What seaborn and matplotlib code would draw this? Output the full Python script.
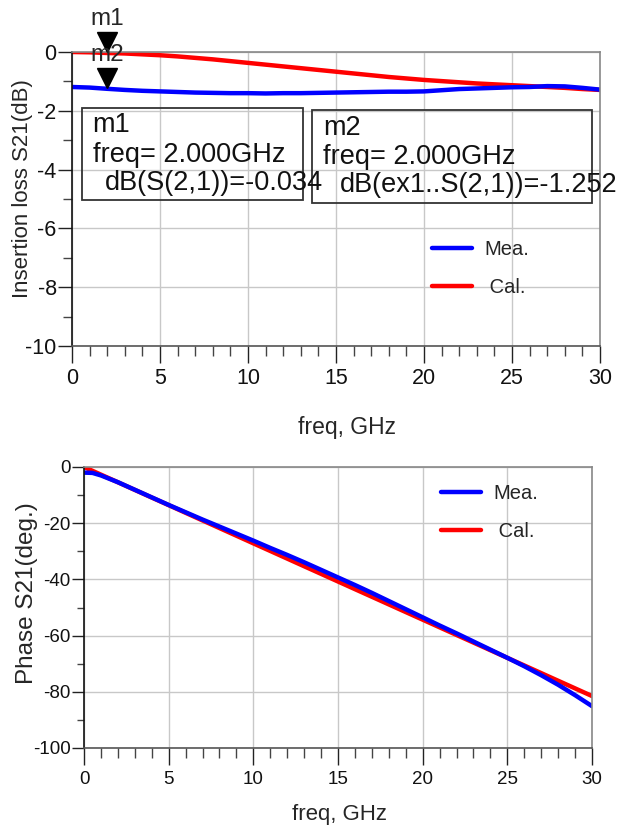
import numpy as np
import pandas as pd
import matplotlib.pyplot as plt
import seaborn as sns
from matplotlib.patches import Rectangle
from matplotlib.ticker import MultipleLocator
from matplotlib.transforms import offset_copy

# data (freq in GHz)
freq = list(range(31))
loss_cal = [0.0, -0.01, -0.034, -0.05, -0.08, -0.11, -0.15, -0.2, -0.25, -0.31,
            -0.37, -0.43, -0.49, -0.55, -0.61, -0.67, -0.73, -0.79, -0.85, -0.9,
            -0.95, -0.99, -1.03, -1.07, -1.1, -1.13, -1.16, -1.19, -1.22, -1.26, -1.29]
loss_mea = [-1.19, -1.21, -1.252, -1.29, -1.32, -1.34, -1.36, -1.38, -1.39, -1.4,
            -1.4, -1.41, -1.4, -1.4, -1.39, -1.38, -1.37, -1.36, -1.35, -1.35,
            -1.34, -1.3, -1.26, -1.24, -1.22, -1.2, -1.19, -1.16, -1.17, -1.22, -1.28]

phase_freq = [0, 0.5, 1, 2, 3, 4, 5, 6, 7, 8, 9, 10, 11, 12, 13, 14, 15, 16, 17,
              18, 19, 20, 21, 22, 23, 24, 25, 26, 27, 28, 29, 30]
phase_cal = [0.0, -1.36, -2.72, -5.43, -8.15, -10.87, -13.58, -16.3, -19.02, -21.73,
             -24.45, -27.17, -29.88, -32.6, -35.32, -38.03, -40.75, -43.47, -46.18,
             -48.9, -51.62, -54.33, -57.05, -59.77, -62.48, -65.2, -67.92, -70.63,
             -73.35, -76.07, -78.78, -81.5]
phase_mea = [-2.0, -2.1, -3.0, -5.4, -8.1, -10.8, -13.5, -16.1, -18.7, -21.2,
             -23.7, -26.2, -28.8, -31.3, -33.9, -36.6, -39.3, -42.0, -44.8,
             -47.7, -50.6, -53.5, -56.4, -59.2, -62.1, -65.0, -67.9, -70.9,
             -74.1, -77.5, -81.2, -85.1]

marker_freq = 2.0
m1_val = -0.034
m2_val = -1.252

sns.set_style("white")
plt.rcParams['font.family'] = ['Liberation Sans', 'DejaVu Sans']
plt.rcParams['axes.unicode_minus'] = False

W, H = 635, 834
fig = plt.figure(figsize=(W / 100, H / 100), dpi=100)


def px(x, y):
    return x / W, 1 - y / H


def style_axes(ax, ymaj, ymin, ylen, ylen_min, fs):
    ax.set_xlim(0, 30)
    ax.xaxis.set_major_locator(MultipleLocator(5))
    ax.xaxis.set_minor_locator(MultipleLocator(1))
    ax.yaxis.set_major_locator(MultipleLocator(ymaj))
    ax.yaxis.set_minor_locator(MultipleLocator(ymin))
    ax.grid(True, which='major', color='#c8c8c8', lw=1)
    ax.tick_params(axis='x', which='major', direction='out', length=12.2, width=1,
                   color='#222222', pad=4, labelsize=fs, labelcolor='#111111', bottom=True)
    ax.tick_params(axis='x', which='minor', direction='out', length=7, width=1,
                   color='#444444', bottom=True)
    ax.tick_params(axis='y', which='major', direction='out', length=ylen, width=1,
                   color='#222222', pad=1, labelsize=fs, labelcolor='#111111', left=True)
    ax.tick_params(axis='y', which='minor', direction='out', length=ylen_min, width=1,
                   color='#444444', left=True)
    for s in ['top', 'right']:
        ax.spines[s].set_color('#888888')
        ax.spines[s].set_linewidth(1.2)
    ax.spines['left'].set_color('#111111')
    ax.spines['bottom'].set_color('#555555')
    for s in ['left', 'bottom']:
        ax.spines[s].set_linewidth(1.2)


# ---------- top: insertion loss ----------
ax1 = fig.add_axes([72 / W, 1 - 346 / H, 528 / W, 294 / H])
sns.lineplot(x=freq, y=loss_cal, ax=ax1, color='#ff0000', lw=3.2)
sns.lineplot(x=freq, y=loss_mea, ax=ax1, color='#0000ff', lw=3.2)
ax1.set_ylim(-10, 0)
style_axes(ax1, 2, 1, 10, 6.5, 15.5)
ax1.set_xlabel('freq, GHz', fontsize=16.5)
ax1.xaxis.set_label_coords(0.521, -0.237)
ax1.set_ylabel('Insertion loss S21(dB)', fontsize=16)
ax1.yaxis.set_label_coords(-0.074, 0.537)
h = ax1.get_lines()
ax1.legend([h[1], h[0]], ['Mea.', ' Cal.'], frameon=False, fontsize=14.5,
           handlelength=2.0, handletextpad=0.6, labelspacing=0.95, borderpad=0,
           loc='upper left', bbox_to_anchor=px(422, 230), bbox_transform=fig.transFigure)

# markers m1 / m2
for val, name in [(m1_val, 'm1'), (m2_val, 'm2')]:
    tri = offset_copy(ax1.transData, fig=fig, x=0, y=11, units='dots')
    ax1.plot([marker_freq], [val], marker='v', ms=14, color='black',
             transform=tri, clip_on=False, zorder=5)
    lab = offset_copy(ax1.transData, fig=fig, x=0, y=34, units='dots')
    ax1.text(marker_freq, val, name, transform=lab, ha='center', va='center',
             fontsize=17.5, clip_on=False, zorder=5)

# marker readout boxes
for (x0, y0, x1, y1) in [(82, 108, 303, 200), (312, 110, 592, 203)]:
    fig.patches.append(Rectangle(px(x0, y1), (x1 - x0) / W, (y1 - y0) / H,
                                 transform=fig.transFigure, fill=False,
                                 edgecolor='#333333', lw=1.3))
box_text = [
    (92, 125, 'm1'), (93, 155, 'freq= 2.000GHz'), (105, 183, 'dB(S(2,1))=-0.034'),
    (323, 128, 'm2'), (323, 157, 'freq= 2.000GHz'), (340, 185, 'dB(ex1..S(2,1))=-1.252'),
]
for x, y, t in box_text:
    fig.text(*px(x, y), t, ha='left', va='center', fontsize=19.5, color='#111111')

# ---------- bottom: phase ----------
ax2 = fig.add_axes([84 / W, 1 - 748 / H, 508 / W, 281 / H])
sns.lineplot(x=phase_freq, y=phase_cal, ax=ax2, color='#ff0000', lw=3.2)
sns.lineplot(x=phase_freq, y=phase_mea, ax=ax2, color='#0000ff', lw=3.2)
ax2.set_ylim(-100, 0)
style_axes(ax2, 20, 10, 8.6, 5, 13.5)
ax2.set_xlabel('freq, GHz', fontsize=16)
ax2.xaxis.set_label_coords(0.502, -0.2)
ax2.set_ylabel('Phase S21(deg.)', fontsize=17.5)
ax2.yaxis.set_label_coords(-0.09, 0.552)
h = ax2.get_lines()
ax2.legend([h[1], h[0]], ['Mea.', ' Cal.'], frameon=False, fontsize=14.5,
           handlelength=2.0, handletextpad=0.6, labelspacing=0.95, borderpad=0,
           loc='upper left', bbox_to_anchor=px(431, 474), bbox_transform=fig.transFigure)

fig.savefig('out.png', dpi=100)
